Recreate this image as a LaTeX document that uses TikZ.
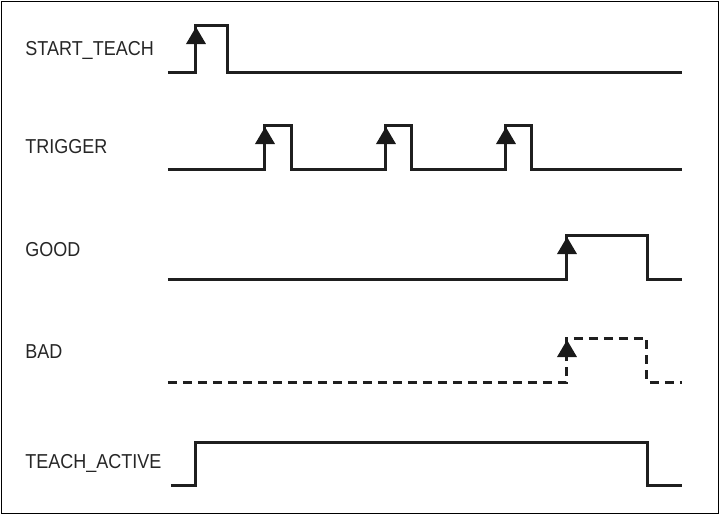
\documentclass[tikz,border=0pt]{standalone}
\usepackage{fontspec}
\setmainfont{Liberation Sans}
\newcommand{\tallbox}[1]{\scalebox{1}[1.12]{#1}}
\begin{document}
\begin{tikzpicture}[x=0.5pt,y=-0.5pt,
  sig/.style={line width=1.5pt,black!88,line join=miter},
  dsig/.style={sig,dash pattern=on 4.5pt off 3pt},
  tri/.style={fill=black!90},
  lbl/.style={anchor=west,inner sep=0pt,font=\fontsize{9}{10}\selectfont,black!85}]
\useasboundingbox (0,0) rectangle (720,515);
\draw[line width=0.6pt] (1.5,1.5) rectangle (718.5,513.5);
% labels
\node[lbl] (lst) at (25,50) {\tallbox{START\_TEACH}};
\node[lbl] (ltr) at (25,147) {\tallbox{TRIGGER}};
\node[lbl] (lgo) at (25,250) {\tallbox{GOOD}};
\node[lbl] (lba) at (25,352) {\tallbox{BAD}};
\node[lbl] (lta) at (25,463) {\tallbox{TEACH\_ACTIVE}};
% START_TEACH
\draw[sig] (168,72) -- (196,72) -- (196,25) -- (228,25) -- (228,72) -- (682,72);
\fill[tri] (196,27) -- (186,44) -- (206,44) -- cycle;
% TRIGGER
\draw[sig] (168,169) -- (265,169) -- (265,125) -- (292,125) -- (292,169)
  -- (386,169) -- (386,125) -- (412,125) -- (412,169)
  -- (506,169) -- (506,125) -- (532,125) -- (532,169) -- (682,169);
\foreach \x in {265,386,506} \fill[tri] (\x,127) -- (\x-10,144) -- (\x+10,144) -- cycle;
% GOOD
\draw[sig] (168,279) -- (567,279) -- (567,235) -- (648,235) -- (648,279) -- (682,279);
\fill[tri] (567,237) -- (557,254) -- (577,254) -- cycle;
% BAD
\draw[dsig] (168,382) -- (567,382) -- (567,338) -- (647,338) -- (647,382) -- (682,382);
\fill[tri] (567,340) -- (557,357) -- (577,357) -- cycle;
% TEACH_ACTIVE
\draw[sig] (171,485) -- (196,485) -- (196,442) -- (648,442) -- (648,485) -- (682,485);
\end{tikzpicture}
\end{document}
